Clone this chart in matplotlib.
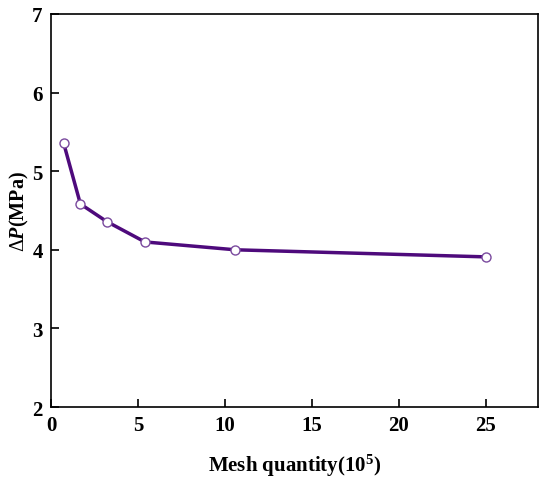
import matplotlib
matplotlib.use("Agg")
from matplotlib import pyplot as plt

# mesh independence check
mesh = [0.73, 1.69, 3.2, 5.4, 10.6, 25.0]
dp = [5.355, 4.583, 4.36, 4.10, 4.0, 3.91]

plt.rcParams['font.family'] = ['Liberation Serif', 'DejaVu Serif']
plt.rcParams['mathtext.fontset'] = 'custom'
plt.rcParams['mathtext.rm'] = 'Liberation Serif'
plt.rcParams['mathtext.it'] = 'Liberation Serif:bold:italic'
plt.rcParams['mathtext.bf'] = 'Liberation Serif:bold'

fig = plt.figure(figsize=(5.5, 4.81), dpi=100)
ax = fig.add_axes([51/550, 1 - 408/481, 487/550, 393/481])

ax.plot(mesh, dp, color='#4e0a7c', lw=2.5, marker='o', ms=6.5,
        mfc='white', mec='#7a4a9e', mew=1.0)

ax.set_xlim(0, 28)
ax.set_ylim(2, 7)
ax.set_xticks([0, 5, 10, 15, 20, 25])
ax.set_yticks([2, 3, 4, 5, 6, 7])
ax.tick_params(direction='in', length=6, width=1.2, labelsize=15, pad=6)
for lab in ax.get_xticklabels() + ax.get_yticklabels():
    lab.set_fontweight('bold')
for s in ax.spines.values():
    s.set_linewidth(1.2)

ax.set_xlabel(r'Mesh quantity(10$\mathbf{^{5}}$)', fontsize=15, fontweight='bold', labelpad=12)
ax.set_ylabel(r'$\Delta\it{P}$(MPa)', fontsize=14.5, fontweight='bold', labelpad=1)

fig.savefig('out.png', dpi=100)
